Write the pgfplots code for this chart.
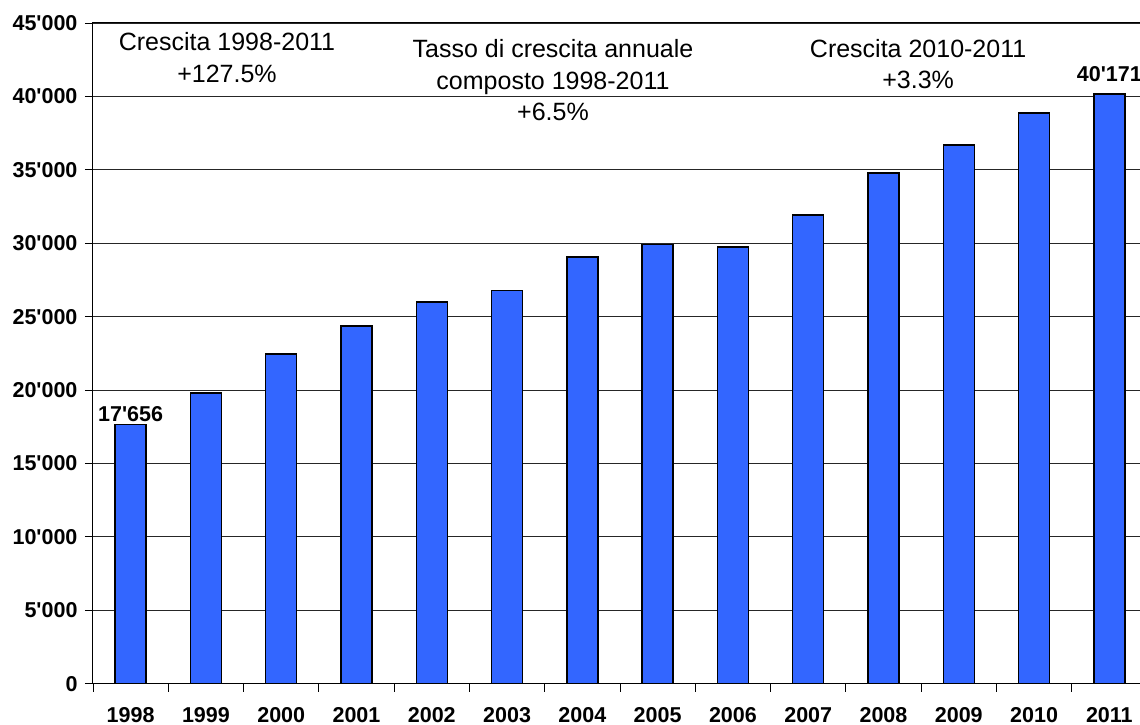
\documentclass[border=0pt]{standalone}
\usepackage{fontspec}
\setmainfont{Liberation Sans}
\usepackage{pgfplots}
\pgfplotsset{compat=1.18}
\definecolor{barblue}{HTML}{3366FF}
\newcommand{\q}{\textquotesingle}
\begin{document}
\begin{tikzpicture}
\begin{axis}[
  scale only axis,
  width=1054pt, height=660.7pt,
  xmin=-0.5, xmax=13.5,
  ymin=0, ymax=45000,
  scaled y ticks=false,
  ybar, bar width=31pt,
  xtick={-0.5,0.5,...,13.5},
  x tick label as interval,
  xticklabels={1998,1999,2000,2001,2002,2003,2004,2005,2006,2007,2008,2009,2010,2011},
  ytick={0,5000,...,45000},
  yticklabels={0,5\q000,10\q000,15\q000,20\q000,25\q000,30\q000,35\q000,40\q000,45\q000},
  tick pos=left,
  tick align=outside,
  major tick length=8pt,
  tick style={black, line width=0.8pt},
  ymajorgrids,
  grid style={black!85, line width=0.9pt},
  axis line style={black, line width=1pt},
  ticklabel style={font=\bfseries\fontsize{21.5}{24}\selectfont},
  xticklabel style={yshift=-12pt},
  yticklabel style={xshift=-4pt},
  clip=false,
]
\addplot[fill=barblue, draw=black, line width=1.5pt] coordinates {
(0,17656) (1,19800) (2,22440) (3,24350) (4,26000) (5,26780) (6,29070)
(7,29910) (8,29750) (9,31930) (10,34770) (11,36690) (12,38870) (13,40171)
};
\node[above, font=\bfseries\fontsize{21.5}{24}\selectfont, yshift=-1pt] at (axis cs:0,17656) {17\q656};
\node[above, font=\bfseries\fontsize{21.5}{24}\selectfont, yshift=9pt] at (axis cs:13,40171) {40\q171};
\node[align=center, font=\fontsize{25}{31.5}\selectfont] at (axis cs:1.28,42650) {Crescita 1998-2011\\+127.5\%};
\node[align=center, font=\fontsize{25}{31.5}\selectfont] at (axis cs:5.61,41090) {Tasso di crescita annuale\\composto 1998-2011\\+6.5\%};
\node[align=center, font=\fontsize{25}{31.5}\selectfont] at (axis cs:10.46,42190) {Crescita 2010-2011\\+3.3\%};
\end{axis}
\pgfresetboundingbox
\path[use as bounding box] ([xshift=-93pt,yshift=-41.3pt]current axis.south west) rectangle ([xshift=-7pt,yshift=23pt]current axis.north east);
\end{tikzpicture}
\end{document}
